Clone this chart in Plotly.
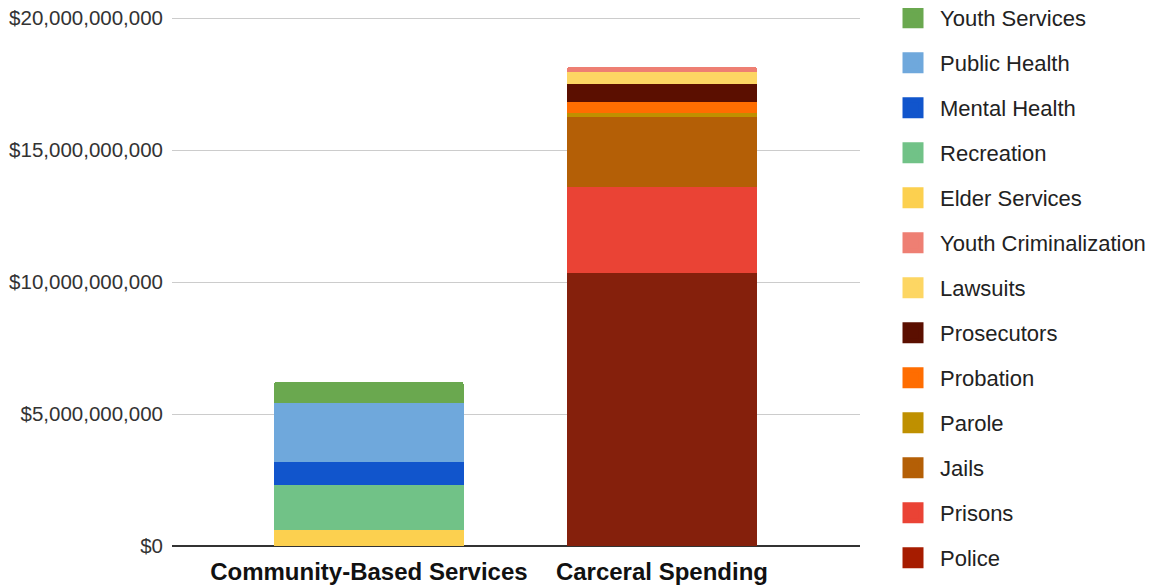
import plotly.graph_objects as go

categories = ["Community-Based Services", "Carceral Spending"]

# Community-based services
community_series = ["Elder Services", "Recreation", "Mental Health", "Public Health", "Youth Services"]
community_values = [0.61e9, 1.71e9, 0.88e9, 2.20e9, 0.81e9]
community_colors = ["#fcd04f", "#71c287", "#1155cc", "#6fa8dc", "#6aa84f"]

# Carceral spending
carceral_series = ["Police", "Prisons", "Jails", "Parole", "Probation", "Prosecutors", "Lawsuits", "Youth Criminalization"]
carceral_values = [10.35e9, 3.24e9, 2.66e9, 0.16e9, 0.42e9, 0.67e9, 0.44e9, 0.21e9]
carceral_colors = ["#85200c", "#ea4335", "#b45f06", "#bf9000", "#ff6d01", "#5b0f00", "#fdd663", "#ee7f73"]
carceral_legend_colors = ["#a61c00", "#ea4335", "#b45f06", "#bf9000", "#ff6d01", "#5b0f00", "#fdd663", "#ee7f73"]

legend_order = ["Youth Services", "Public Health", "Mental Health", "Recreation", "Elder Services",
                "Youth Criminalization", "Lawsuits", "Prosecutors", "Probation", "Parole",
                "Jails", "Prisons", "Police"]

y_ticks = [0, 5e9, 10e9, 15e9, 20e9]
y_tick_labels = ["$0", "$5,000,000,000", "$10,000,000,000", "$15,000,000,000", "$20,000,000,000"]
y_max = 20.0758e9

fig = go.Figure()

legend_color = dict(zip(carceral_series, carceral_legend_colors))
legend_color.update(zip(community_series, community_colors))

# Legend entries (in legend order)
for name in legend_order:
    c = legend_color[name]
    fig.add_trace(go.Scatter(
        x=[None], y=[None], mode="markers", name=name, legendgroup=name,
        marker=dict(symbol="square", size=16, color=c, line=dict(color=c, width=5)),
        showlegend=True, hoverinfo="skip",
    ))

# Stacked bars
for name, val, col in zip(carceral_series, carceral_values, carceral_colors):
    fig.add_trace(go.Bar(x=[categories[1]], y=[val], name=name,
                         marker=dict(color=col, line=dict(width=0)),
                         width=0.648, showlegend=False))
for name, val, col in zip(community_series, community_values, community_colors):
    fig.add_trace(go.Bar(x=[categories[0]], y=[val], name=name,
                         marker=dict(color=col, line=dict(width=0)),
                         width=0.648, showlegend=False))

fig.update_layout(
    width=1146, height=579,
    barmode="stack",
    barcornerradius=3,
    plot_bgcolor="white", paper_bgcolor="white",
    margin=dict(l=164, r=294, t=8, b=41, autoexpand=False),
    font=dict(family="Liberation Sans, Arial, sans-serif", color="#222222"),
    legend=dict(
        x=1.0378, xanchor="left", y=1.0358, yanchor="top",
        traceorder="grouped", tracegroupgap=13.4,
        font=dict(size=22, color="#222222"),
        bgcolor="rgba(0,0,0,0)", itemwidth=44, maxheight=1000,
    ),
    xaxis=dict(
        type="category", categoryorder="array", categoryarray=categories,
        range=[-0.672, 1.676], showgrid=False, showline=False, ticks="",
        tickvals=categories,
        ticktext=["<b>" + c + "</b>" for c in categories],
        tickfont=dict(size=24, color="#111111"),
        ticklabelstandoff=9,
    ),
    yaxis=dict(
        range=[0, y_max], tickvals=y_ticks, ticktext=y_tick_labels,
        showgrid=True, gridcolor="#cccccc", gridwidth=1,
        zeroline=True, zerolinecolor="#333333", zerolinewidth=2,
        showline=False, ticks="",
        tickfont=dict(size=20.5, color="#333333"),
        ticklabelstandoff=8, ticklabeloverflow="allow",
    ),
)

fig.write_html("out.html")
